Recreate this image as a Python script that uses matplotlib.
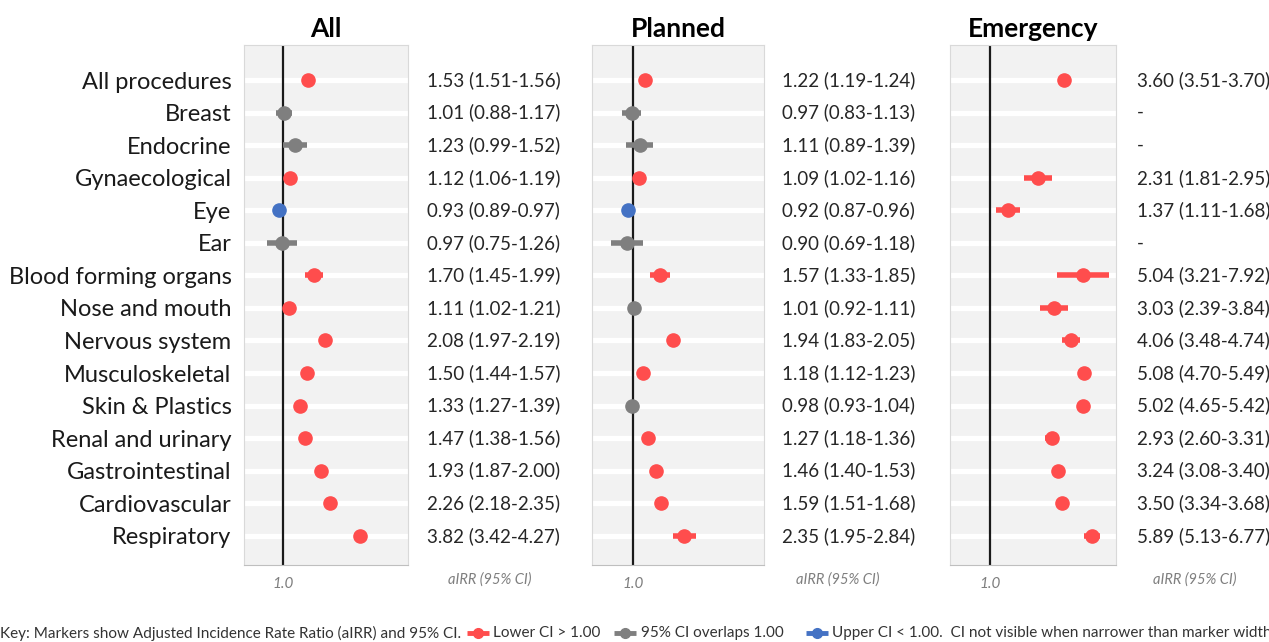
import numpy as np
import matplotlib
matplotlib.use("Agg")
import matplotlib.pyplot as plt
from matplotlib.lines import Line2D

plt.rcParams['font.family'] = ['Lato', 'DejaVu Sans']

categories = ["All procedures", "Breast", "Endocrine", "Gynaecological", "Eye", "Ear",
              "Blood forming organs", "Nose and mouth", "Nervous system", "Musculoskeletal",
              "Skin & Plastics", "Renal and urinary", "Gastrointestinal", "Cardiovascular",
              "Respiratory"]

all_est = [1.53, 1.01, 1.23, 1.12, 0.93, 0.97, 1.70, 1.11, 2.08, 1.50, 1.33, 1.47, 1.93, 2.26, 3.82]
all_lo = [1.51, 0.88, 0.99, 1.06, 0.89, 0.75, 1.45, 1.02, 1.97, 1.44, 1.27, 1.38, 1.87, 2.18, 3.42]
all_hi = [1.56, 1.17, 1.52, 1.19, 0.97, 1.26, 1.99, 1.21, 2.19, 1.57, 1.39, 1.56, 2.00, 2.35, 4.27]

pl_est = [1.22, 0.97, 1.11, 1.09, 0.92, 0.90, 1.57, 1.01, 1.94, 1.18, 0.98, 1.27, 1.46, 1.59, 2.35]
pl_lo = [1.19, 0.83, 0.89, 1.02, 0.87, 0.69, 1.33, 0.92, 1.83, 1.12, 0.93, 1.18, 1.40, 1.51, 1.95]
pl_hi = [1.24, 1.13, 1.39, 1.16, 0.96, 1.18, 1.85, 1.11, 2.05, 1.23, 1.04, 1.36, 1.53, 1.68, 2.84]

em_est = [3.60, None, None, 2.31, 1.37, None, 5.04, 3.03, 4.06, 5.08, 5.02, 2.93, 3.24, 3.50, 5.89]
em_lo = [3.51, None, None, 1.81, 1.11, None, 3.21, 2.39, 3.48, 4.70, 4.65, 2.60, 3.08, 3.34, 5.13]
em_hi = [3.70, None, None, 2.95, 1.68, None, 7.92, 3.84, 4.74, 5.49, 5.42, 3.31, 3.40, 3.68, 6.77]

RED = "#FF4D4D"
GREY = "#7F7F7F"
BLUE = "#4472C4"

fig = plt.figure(figsize=(12.69, 6.42), dpi=100)
W, H = 1269, 642

# (title, est, lo, hi, left px, width px, text px, label px)
panels = [
    ("All", all_est, all_lo, all_hi, 244, 164, 427, 490),
    ("Planned", pl_est, pl_lo, pl_hi, 592, 172, 782, 838),
    ("Emergency", em_est, em_lo, em_hi, 950, 166, 1137, 1195),
]
top, bottom = 45, 565

def colour(lo, hi):
    if lo > 1.0:
        return RED
    if hi < 1.0:
        return BLUE
    return GREY

ypos = np.arange(len(categories))

for i, (title, est, lo, hi, left, width, tx, lx) in enumerate(panels):
    ax = fig.add_axes([left / W, (H - bottom) / H, width / W, (bottom - top) / H])
    ax.set_facecolor("#F2F2F2")
    ax.set_xscale("log")
    ax.set_xlim(0.5, 8.9)
    ax.set_ylim(14.9, -1.08)
    ax.set_yticks(ypos)
    ax.set_axisbelow(True)
    ax.grid(axis="y", color="white", lw=3.8)
    ax.grid(axis="x", visible=False)
    ax.set_xticks([1.0])
    ax.set_xticklabels(["1.0"], fontstyle="italic", color="#7F7F7F", fontsize=11)
    ax.minorticks_off()
    ax.tick_params(length=0, pad=9)
    if i == 0:
        ax.set_yticklabels(categories, fontsize=17, color="#1a1a1a")
    else:
        ax.set_yticklabels([])
    for s in ax.spines.values():
        s.set_color("#D9D9D9")
    ax.spines["bottom"].set_color("#BFBFBF")
    ax.axvline(1.0, color="#1a1a1a", lw=1.6, zorder=2)
    ax.set_title(title, fontsize=19, fontweight="bold", pad=6)

    for y, e, l, h in zip(ypos, est, lo, hi):
        tr = ax.get_yaxis_transform()
        xt = (tx - left) / width
        if e is None:
            ax.text(xt, y, "-", transform=tr, va="center", ha="left", fontsize=13.5, color="#262626")
            continue
        c = colour(l, h)
        ax.plot([l, h], [y, y], color=c, lw=4, solid_capstyle="butt", zorder=3)
        ax.plot(e, y, "o", color=c, ms=9.5, zorder=4)
        ax.text(xt, y, f"{e:.2f} ({l:.2f}-{h:.2f})", transform=tr, va="center", ha="left",
                fontsize=13.5, color="#262626")
    fig.text(lx / W, (H - 580) / H, "aIRR (95% CI)", fontstyle="italic", color="#7F7F7F",
             fontsize=10.5, ha="center", va="center")

# key at the bottom
ky = (H - 633) / H
keyfont = dict(fontsize=11, color="#333333", va="center", ha="left")
fig.text(0.0, ky, "Key: Markers show Adjusted Incidence Rate Ratio (aIRR) and 95% CI.", **keyfont)
for c, mx, tx_, label in [(RED, 478, 493, "Lower CI > 1.00"),
                          (GREY, 625, 641, "95% CI overlaps 1.00"),
                          (BLUE, 817, 832, "Upper CI < 1.00.  CI not visible when narrower than marker width")]:
    fig.add_artist(Line2D([(mx - 11) / W, (mx + 11) / W], [ky, ky], color=c, lw=3.5,
                          solid_capstyle="butt", transform=fig.transFigure))
    fig.add_artist(Line2D([mx / W], [ky], color=c, marker="o", ms=7, transform=fig.transFigure))
    fig.text(tx_ / W, ky, label, **keyfont)

fig.savefig("out.png", dpi=100)
